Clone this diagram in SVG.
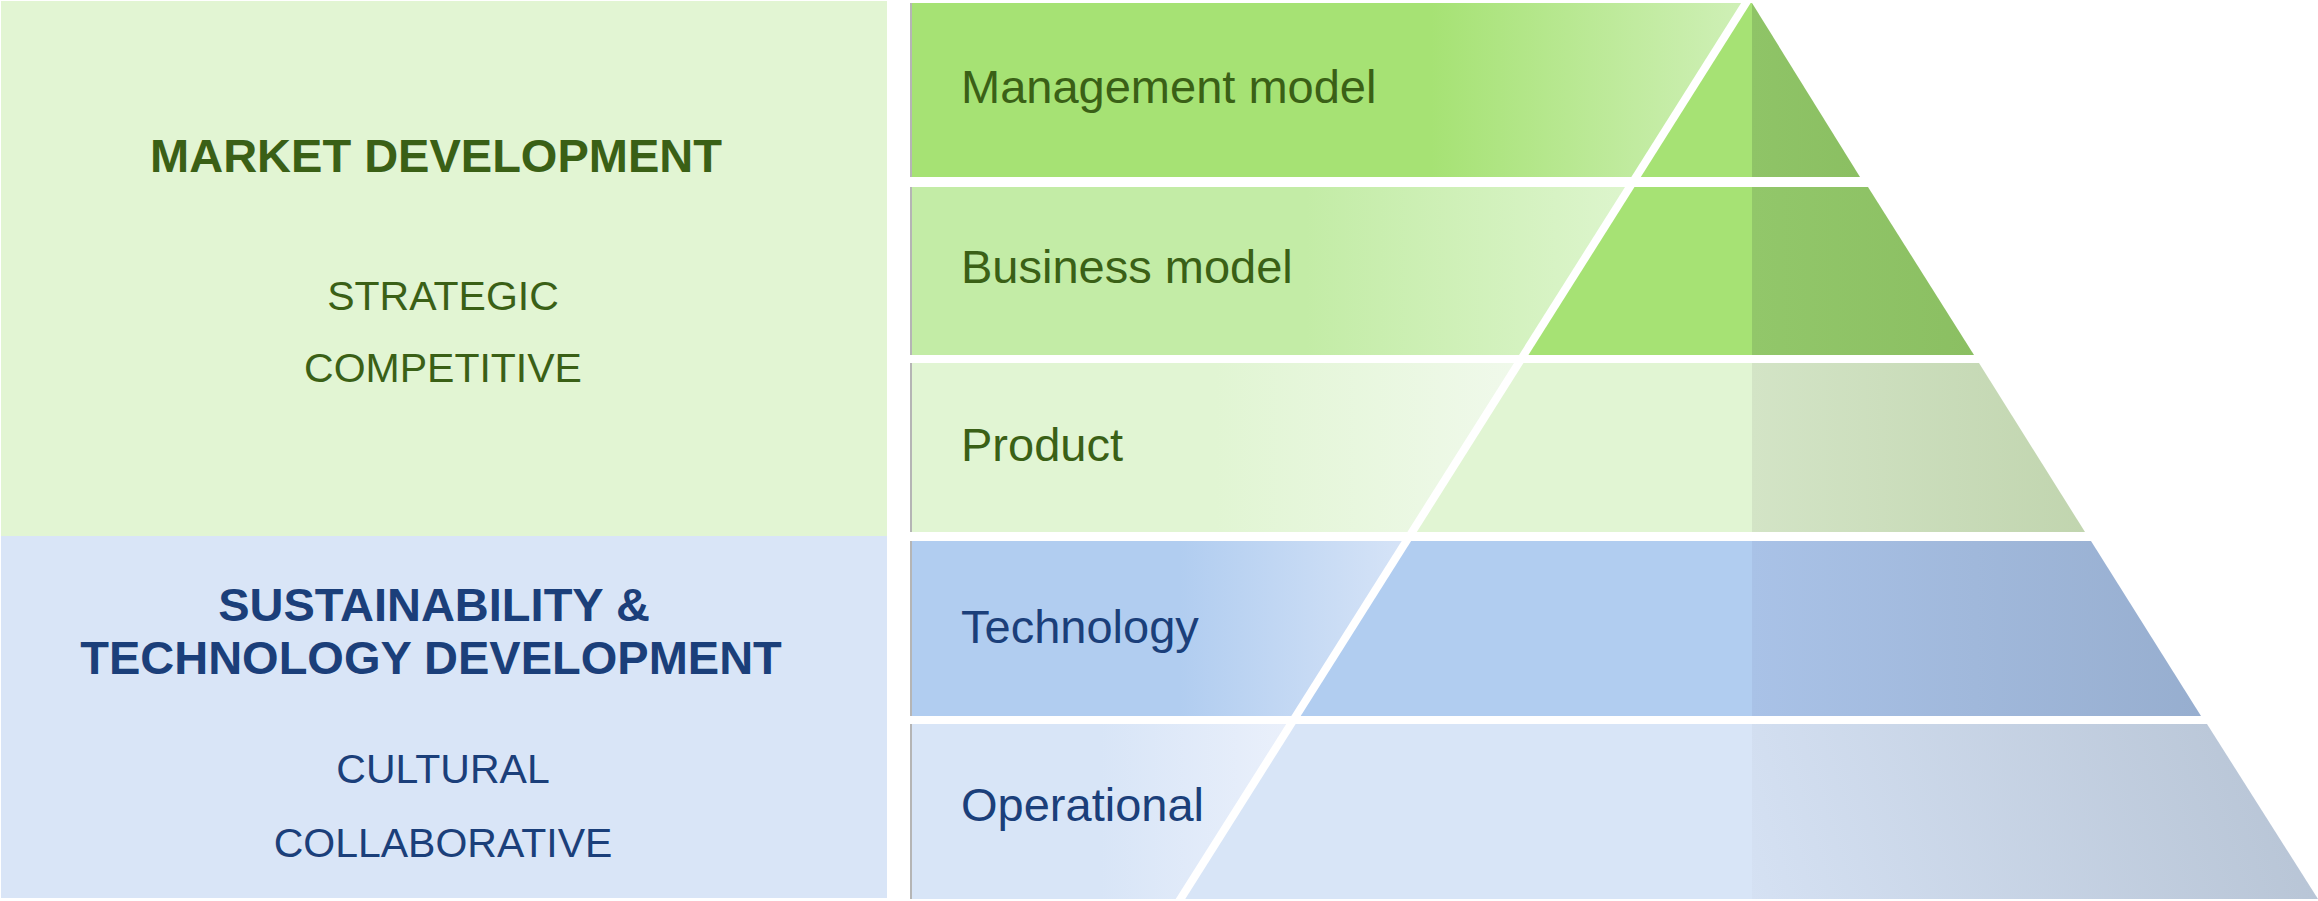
<svg xmlns="http://www.w3.org/2000/svg" width="2318" height="901" viewBox="0 0 2318 901">
<defs>
<style>
.t{font-family:"Liberation Sans",Arial,sans-serif}
.hg{font-weight:bold;font-size:47px;fill:#3a6016}
.hb{font-weight:bold;font-size:47px;fill:#1b3f7a}
.sg{font-size:41px;fill:#3a6016}
.sb{font-size:41px;fill:#1b3f7a}
.lg{font-size:47px;fill:#3a6016}
.lb{font-size:47px;fill:#1b3f7a}
.edge{stroke:#b5b5b5;stroke-width:2}
</style>
<linearGradient id="l1" gradientUnits="userSpaceOnUse" x1="910" y1="0" x2="1750" y2="0">
<stop offset="0" stop-color="#a6e274"/><stop offset="0.62" stop-color="#a6e274"/><stop offset="1" stop-color="#d0f0b8"/>
</linearGradient>
<linearGradient id="l2" gradientUnits="userSpaceOnUse" x1="910" y1="0" x2="1630" y2="0">
<stop offset="0" stop-color="#c3eca6"/><stop offset="0.55" stop-color="#c3eca6"/><stop offset="1" stop-color="#ddf5cd"/>
</linearGradient>
<linearGradient id="l3" gradientUnits="userSpaceOnUse" x1="910" y1="0" x2="1520" y2="0">
<stop offset="0" stop-color="#e1f5d3"/><stop offset="0.5" stop-color="#e1f5d3"/><stop offset="1" stop-color="#f0f9eb"/>
</linearGradient>
<linearGradient id="l4" gradientUnits="userSpaceOnUse" x1="910" y1="0" x2="1400" y2="0">
<stop offset="0" stop-color="#b1cdf0"/><stop offset="0.55" stop-color="#b1cdf0"/><stop offset="1" stop-color="#d5e3f7"/>
</linearGradient>
<linearGradient id="l5" gradientUnits="userSpaceOnUse" x1="910" y1="0" x2="1290" y2="0">
<stop offset="0" stop-color="#d8e5f7"/><stop offset="0.5" stop-color="#d8e5f7"/><stop offset="1" stop-color="#eaf0fb"/>
</linearGradient>
<linearGradient id="d1" gradientUnits="userSpaceOnUse" x1="1752" y1="0" x2="1860" y2="0">
<stop offset="0" stop-color="#8fc467"/><stop offset="1" stop-color="#8bbf62"/>
</linearGradient>
<linearGradient id="d2" gradientUnits="userSpaceOnUse" x1="1752" y1="0" x2="1975" y2="0">
<stop offset="0" stop-color="#92c76a"/><stop offset="1" stop-color="#8bbf62"/>
</linearGradient>
<linearGradient id="d3" gradientUnits="userSpaceOnUse" x1="1752" y1="0" x2="2085" y2="0">
<stop offset="0" stop-color="#d3e4c6"/><stop offset="1" stop-color="#c1d5af"/>
</linearGradient>
<linearGradient id="d4" gradientUnits="userSpaceOnUse" x1="1752" y1="0" x2="2200" y2="0">
<stop offset="0" stop-color="#a9c2e7"/><stop offset="1" stop-color="#97aecf"/>
</linearGradient>
<linearGradient id="d5" gradientUnits="userSpaceOnUse" x1="1752" y1="900" x2="2310" y2="724">
<stop offset="0" stop-color="#d5e1f3"/><stop offset="1" stop-color="#b6c3d4"/>
</linearGradient>
</defs>
<rect width="2318" height="901" fill="#ffffff"/>

<g id="market-development">
<rect x="1" y="1" width="886" height="535" fill="#e2f5d3"/>
<text class="t hg" x="436" y="172" text-anchor="middle">MARKET DEVELOPMENT</text>
<text class="t sg" x="443" y="310" text-anchor="middle">STRATEGIC</text>
<text class="t sg" x="443" y="382" text-anchor="middle">COMPETITIVE</text>
</g>

<g id="sustainability-technology">
<rect x="1" y="536" width="886" height="362" fill="#d9e5f7"/>
<text class="t hb" x="434" y="621" text-anchor="middle">SUSTAINABILITY &amp;</text>
<text class="t hb" x="431" y="674" text-anchor="middle">TECHNOLOGY DEVELOPMENT</text>
<text class="t sb" x="443" y="783" text-anchor="middle">CULTURAL</text>
<text class="t sb" x="443" y="857" text-anchor="middle">COLLABORATIVE</text>
</g>

<g id="management-model">
<polygon points="910,3 1747,3 1637,177 910,177" fill="url(#l1)"/>
<polygon points="1747,3 1752,3 1752,177 1637,177" fill="#a6e274"/>
<polygon points="1752,3 1860,177 1752,177" fill="url(#d1)"/>
<line class="edge" x1="911" y1="3" x2="911" y2="177"/>
<text class="t lg" x="961" y="103">Management model</text>
</g>

<g id="business-model">
<polygon points="910,187 1631,187 1525,355 910,355" fill="url(#l2)"/>
<polygon points="1631,187 1752,187 1752,355 1525,355" fill="#a6e274"/>
<polygon points="1752,187 1868,187 1974,355 1752,355" fill="url(#d2)"/>
<line class="edge" x1="911" y1="187" x2="911" y2="355"/>
<text class="t lg" x="961" y="283">Business model</text>
</g>

<g id="product">
<polygon points="910,363 1520,363 1413,532 910,532" fill="url(#l3)"/>
<polygon points="1520,363 1752,363 1752,532 1413,532" fill="#e1f5d3"/>
<polygon points="1752,363 1979,363 2085,532 1752,532" fill="url(#d3)"/>
<line class="edge" x1="911" y1="363" x2="911" y2="532"/>
<text class="t lg" x="961" y="461">Product</text>
</g>

<g id="technology">
<polygon points="910,541 1407,541 1296,716 910,716" fill="url(#l4)"/>
<polygon points="1407,541 1752,541 1752,716 1296,716" fill="#b1cdf0"/>
<polygon points="1752,541 2091,541 2201,716 1752,716" fill="url(#d4)"/>
<line class="edge" x1="911" y1="541" x2="911" y2="716" stroke="#a9b8cf"/>
<text class="t lb" x="961" y="643">Technology</text>
</g>

<g id="operational">
<polygon points="910,724 1291,724 1180,899 910,899" fill="url(#l5)"/>
<polygon points="1291,724 1752,724 1752,899 1180,899" fill="#d8e5f7"/>
<polygon points="1752,724 2207,724 2318,899 1752,899" fill="url(#d5)"/>
<line class="edge" x1="911" y1="724" x2="911" y2="899" stroke="#b9c4d4"/>
<text class="t lb" x="961" y="821">Operational</text>
</g>

<g id="connectors">
<line x1="1749" y1="-2" x2="1178" y2="903" stroke="#ffffff" stroke-width="8"/>
</g>
</svg>
